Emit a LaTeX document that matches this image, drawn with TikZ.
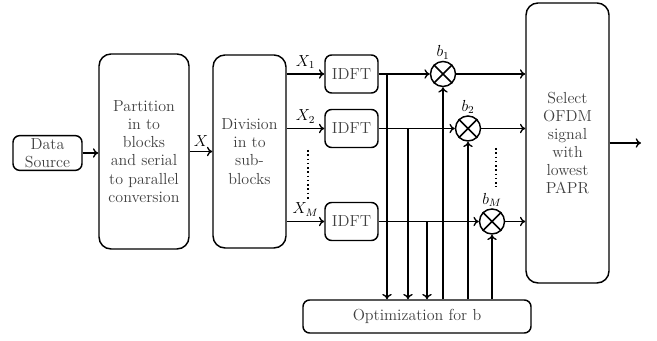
\documentclass[tikz,border=0pt]{standalone}
\usepackage{amsmath}
\usetikzlibrary{arrows.meta,calc}
\tikzset{
	bigbox/.style={draw, line width=1.1pt, rounded corners=9pt, align=center,
			text=black!75, inner sep=2pt},
	smallbox/.style={draw, line width=1.1pt, rounded corners=5pt, align=center,
			text=black!75, inner sep=2pt},
	mixer/.style={draw, circle, line width=1.1pt, minimum size=18.75pt, inner sep=0pt}
}

\begin{document}
\begin{tikzpicture}[x=0.75pt,y=-0.75pt,line width=1pt,>={To[length=4pt,width=7pt]},
		font=\fontsize{12}{13.6}\selectfont]
	\useasboundingbox (0,0) rectangle (657,341);
	%--- Input stage ---
	\node[smallbox, minimum width=51.75pt, minimum height=22.5pt] (src) at (47.5,153) {Data\\Source};
	\node[bigbox, minimum width=67.5pt, minimum height=146.25pt] (part) at (144,151.5)
	{Partition\\in to\\blocks\\and serial\\to parallel\\conversion};
	\node[bigbox, minimum width=54.75pt, minimum height=144.75pt] (div) at (249.5,151.5)
	{Division\\in to\\sub-\\blocks};
	\draw[->] (src.east) -- (src.east -| part.west);
	\draw[->] (part.east) -- (part.east -| div.west) node[midway, above] {$X$};

	%--- IDFT branches ---
	\node[smallbox, minimum width=39.75pt, minimum height=28.5pt] (idft1) at (351.5,74) {IDFT};
	\node[smallbox, minimum width=39.75pt, minimum height=28.5pt] (idft2) at (351.5,128.5) {IDFT};
	\node[smallbox, minimum width=39.75pt, minimum height=28.5pt] (idftM) at (351.5,221.5) {IDFT};
	\foreach \i/\lab in {1/X_1,2/X_2,M/X_M}
	\draw[->] (idft\i.west -| div.east) -- (idft\i.west) node[midway, above] {$\lab$};

	%--- Multipliers ---
	\node[mixer] (m1) at (443,74) {};
	\node[mixer] (m2) at (468,128.5) {};
	\node[mixer] (mM) at (492,221.5) {};
	\foreach \i in {1,2,M} {
			\draw[line width=1.1pt] (m\i.north west) -- (m\i.south east)
			(m\i.north east) -- (m\i.south west);
			\node[above, inner sep=0.8pt] (lb\i) at (m\i.north) {$b_\i$};
		}

	%--- Selection ---
	\node[bigbox, minimum width=62.25pt, minimum height=210pt] (sel) at (567.5,143)
	{Select\\OFDM\\signal\\with\\lowest\\PAPR};
	\coordinate (out) at (641,143);
	\foreach \i in {1,2,M} {
			\draw[->] (idft\i.east) -- (m\i.west);
			\draw[->] (m\i.east) -- (m\i.east -| sel.west);
		}
	\draw[->] (sel.east) -- (out);

	%--- Optimization feedback ---
	\node[smallbox, minimum width=171pt, minimum height=24.75pt] (opt) at (417,316.5) {Optimization for b};
	\coordinate (t1) at (387,74);
	\coordinate (t2) at (408,128.5);
	\coordinate (tM) at (427,221.5);
	\foreach \i in {1,2,M} {
			\draw[->] (t\i) -- (t\i |- opt.north);
			\draw[->] (m\i.south |- opt.north) -- (m\i.south);
		}

	% dots between branches
	\coordinate (d1a) at (308,150);
	\coordinate (d1b) at (308,200);
	\coordinate (d2a) at (496,148);
	\coordinate (d2b) at (496,187);
	\draw[dotted, line width=1.2pt] (d1a) -- (d1b);
	\draw[dotted, line width=1.2pt] (d2a) -- (d2b);
\end{tikzpicture}
\end{document}
